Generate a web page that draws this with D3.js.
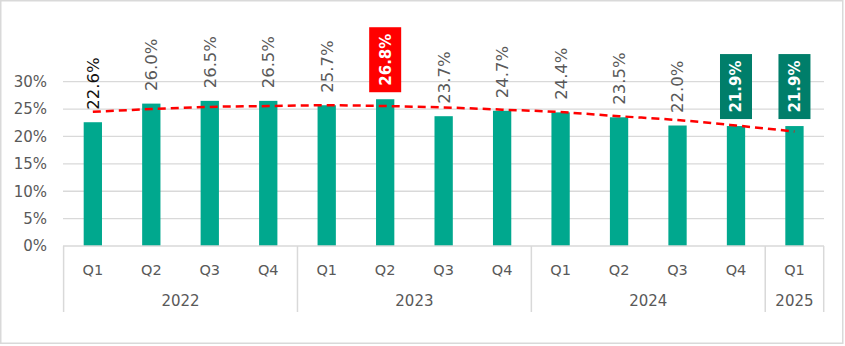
<!DOCTYPE html>
<html><head><meta charset="utf-8">
<script src="https://cdn.jsdelivr.net/npm/d3@7"></script>
<style>body{margin:0;background:#fff}svg{display:block;font-family:"DejaVu Sans",sans-serif}</style>
</head><body><svg id="c" width="845" height="346"></svg>
<script>
const quarters = ["Q1","Q2","Q3","Q4","Q1","Q2","Q3","Q4","Q1","Q2","Q3","Q4","Q1"];
const years = ["2022","2022","2022","2022","2023","2023","2023","2023","2024","2024","2024","2024","2025"];
const values = [22.6,26.0,26.5,26.5,25.7,26.8,23.7,24.7,24.4,23.5,22.0,21.9,21.9];
const trend = [24.5,25.0,25.4,25.55,25.7,25.55,25.3,24.9,24.45,23.7,23.0,22.0,20.9];
const highlight = ["none","none","none","none","none","red","none","none","none","none","none","green","green"];
const yTicks = [0,5,10,15,20,25,30];

const svg = d3.select("#c");
const idx = d3.range(values.length);
const x = d3.scaleBand().domain(idx).range([63.6, 823.7]).padding(0);
const y = d3.scaleLinear().domain([0, 30]).range([246, 81.7]);
const bw = x.bandwidth() * 0.313;
const cx = i => x(i) + x.bandwidth() / 2;

// outer border
svg.append("rect").attr("x",0.75).attr("y",0.75).attr("width",842).attr("height",342.5)
  .attr("fill","#fff").attr("stroke","#d9d9d9").attr("stroke-width",1.5);

// gridlines
svg.append("g").selectAll("line").data(yTicks.filter(t=>t>0)).join("line")
  .attr("x1",63).attr("x2",824).attr("y1",d=>y(d)).attr("y2",d=>y(d))
  .attr("stroke","#d9d9d9").attr("stroke-width",1.3);

// y tick labels
svg.append("g").selectAll("text").data(yTicks).join("text")
  .attr("x",47).attr("y",d=>y(d)).attr("dy","0.36em").attr("text-anchor","end")
  .attr("font-size",15).attr("fill","#595959").text(d=>d+"%");

// bars
svg.append("g").selectAll("rect").data(idx).join("rect")
  .attr("x",i=>cx(i)-bw/2).attr("width",bw)
  .attr("y",i=>y(values[i])).attr("height",i=>y(0)-y(values[i]))
  .attr("fill","#00A88E");

// axis line
svg.append("line").attr("x1",63).attr("x2",824).attr("y1",y(0)).attr("y2",y(0))
  .attr("stroke","#d9d9d9").attr("stroke-width",1.5);

// year separators
const bounds = [0,4,8,12];
const sepX = bounds.map(b=>x(b)).concat([x(12)+x.bandwidth()]);
svg.append("g").selectAll("line").data(sepX).join("line")
  .attr("x1",d=>d).attr("x2",d=>d).attr("y1",y(0)).attr("y2",312)
  .attr("stroke","#d9d9d9").attr("stroke-width",1.5);

// quarter labels
svg.append("g").selectAll("text").data(idx).join("text")
  .attr("x",cx).attr("y",269.5).attr("dy","0.36em").attr("text-anchor","middle")
  .attr("font-size",14.5).attr("fill","#595959").text(i=>quarters[i]);

// year labels
const yearGroups = d3.groups(idx, i=>years[i]);
svg.append("g").selectAll("text").data(yearGroups).join("text")
  .attr("x",d=>(x(d[1][0]) + x(d[1][d[1].length-1]) + x.bandwidth())/2)
  .attr("y",301).attr("dy","0.36em").attr("text-anchor","middle")
  .attr("font-size",15).attr("fill","#595959").text(d=>d[0]);

// trend line
const line = d3.line().x(i=>cx(i)).y(i=>y(trend[i])).curve(d3.curveMonotoneX);
svg.append("path").datum(idx).attr("d",line).attr("fill","none")
  .attr("stroke","#FF0000").attr("stroke-width",2.5).attr("stroke-dasharray","8,5");

// plain value labels
svg.append("g").selectAll("text").data(idx.filter(i=>highlight[i]==="none")).join("text")
  .attr("transform",i=>`translate(${cx(i)},${y(values[i])-12.5}) rotate(-90)`)
  .attr("dy","0.36em").attr("text-anchor","start").attr("font-size",16.5)
  .attr("fill",i=>i===0?"#111":"#595959").text(i=>values[i].toFixed(1)+"%");

// highlighted labels
const boxColor = {red:"#FF0000", green:"#007E6A"};
const hl = svg.append("g").selectAll("g").data(idx.filter(i=>highlight[i]!=="none")).join("g")
  .attr("transform",i=>`translate(${cx(i)},${y(values[i])-7-32.5})`);
hl.append("rect").attr("x",-16).attr("y",-32.5).attr("width",32).attr("height",65)
  .attr("fill",i=>boxColor[highlight[i]]);
hl.append("text").attr("transform","rotate(-90)").attr("dy","0.36em").attr("text-anchor","middle")
  .attr("font-size",15).attr("font-weight","bold").attr("fill","#fff")
  .text(i=>values[i].toFixed(1)+"%");
</script></body></html>
